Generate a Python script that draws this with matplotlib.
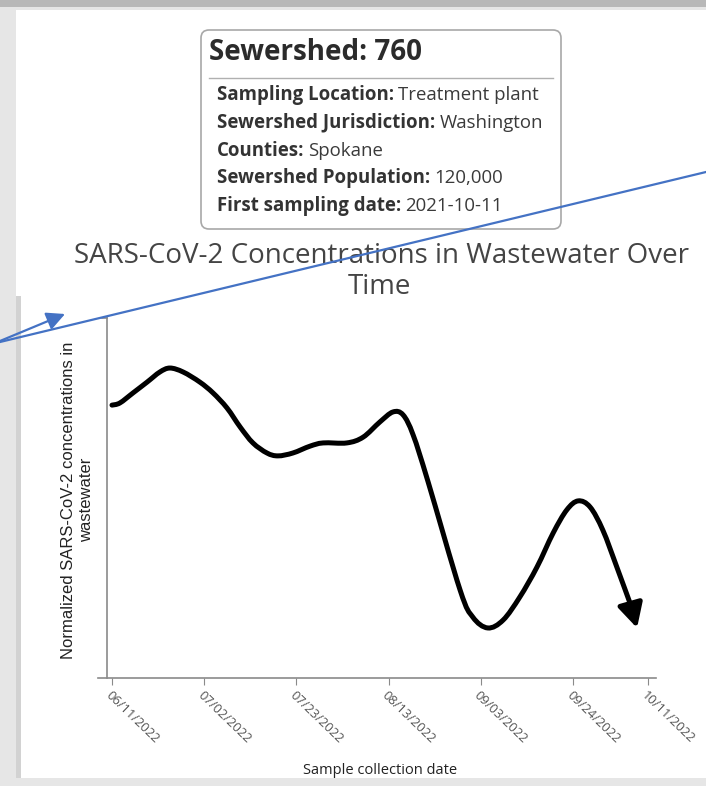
import datetime as dt
import matplotlib
matplotlib.use("Agg")
import matplotlib.pyplot as plt
import matplotlib.dates as mdates
from matplotlib.patches import FancyBboxPatch, Rectangle, FancyArrowPatch, PathPatch
from matplotlib.path import Path
from matplotlib.lines import Line2D
from matplotlib.transforms import IdentityTransform

# ---- data ----
start_date = dt.datetime(2022, 6, 11)
# days after 06/11/2022 and normalized concentration (0-100 scale)
days = [0.0, 1.8, 4.8, 8.0, 10.9, 13.2, 16.2, 20.0, 23.0, 26.2, 29.2, 32.1,
        35.3, 37.8, 41.2, 45.1, 48.1, 53.5, 57.2, 61.0, 64.0, 66.3, 68.6,
        72.0, 79.3, 82.2, 85.6, 89.1, 92.9, 96.8, 100.5, 103.6,
        106.2, 108.9, 111.8, 115.0, 118.0, 119.6]
conc = [75.8, 76.4, 79.2, 82.2, 85.0, 86.1, 85.0, 82.2, 79.2, 75.0, 69.7, 65.3,
        62.5, 61.7, 62.5, 64.4, 65.3, 65.3, 66.9, 71.1, 73.9, 73.1, 67.5,
        54.5, 24.4, 16.9, 13.9, 16.1, 22.5, 30.8, 40.3, 46.7,
        49.2, 47.5, 41.1, 30.8, 20.8, 13.9]
tick_dates = ["06/11/2022", "07/02/2022", "07/23/2022", "08/13/2022",
              "09/03/2022", "09/24/2022", "10/11/2022"]

info_title = "Sewershed: 760"
info_keys = ["Sampling Location:", "Sewershed Jurisdiction:", "Counties:",
             "Sewershed Population:", "First sampling date:"]
info_vals = ["Treatment plant", "Washington", "Spokane", "120,000", "2021-10-11"]

W, H = 706, 786
fig = plt.figure(figsize=(W / 100, H / 100), dpi=100, facecolor="#e6e6e6")
px = IdentityTransform()


def Y(py):
    # screenshot rows run top-down, display pixels bottom-up
    return H - py


def smooth_path(xs, ys):
    # cardinal (catmull-rom) curve through the points, as cubic bezier segments
    pts = list(zip(xs, ys))
    verts = [pts[0]]
    codes = [Path.MOVETO]
    n = len(pts)
    for i in range(n - 1):
        p0 = pts[max(i - 1, 0)]
        p1 = pts[i]
        p2 = pts[i + 1]
        p3 = pts[min(i + 2, n - 1)]
        c1 = (p1[0] + (p2[0] - p0[0]) / 6, p1[1] + (p2[1] - p0[1]) / 6)
        c2 = (p2[0] - (p3[0] - p1[0]) / 6, p2[1] - (p3[1] - p1[1]) / 6)
        verts += [c1, c2, p2]
        codes += [Path.CURVE4] * 3
    return Path(verts, codes)


# screenshot frame (behind everything)
fig.add_artist(Rectangle((0, Y(7)), W, 7, transform=px, color="#b8b8b8", lw=0, zorder=-10))
fig.add_artist(Rectangle((16, Y(778)), W - 16, 768, transform=px, color="white", lw=0, zorder=-10))
fig.add_artist(Rectangle((16, Y(778)), 5, 778 - 296, transform=px, color="#d2d2d2", lw=0, zorder=-9))

# info box
fig.add_artist(FancyBboxPatch((201, Y(229)), 360, 199, transform=px,
                              boxstyle="round,pad=0,rounding_size=8",
                              fc="white", ec="#a8a8a8", lw=1.2, zorder=1))
fig.text(209, Y(53), info_title, transform=px, fontsize=20, fontweight="bold",
         family="Open Sans", color="#2b2b2b", va="center", ha="left")
fig.add_artist(Line2D([209, 553], [Y(78), Y(78)], transform=px, color="#b0b0b0", lw=1, zorder=2))
renderer = fig.canvas.get_renderer()
for i, (k, v) in enumerate(zip(info_keys, info_vals)):
    yy = Y(95 + i * 27.8)
    t = fig.text(217, yy, k, transform=px, fontsize=13.4, fontweight="bold",
                 family="Open Sans", color="#333333", va="center", ha="left")
    bb = t.get_window_extent(renderer)
    fig.text(bb.x1 + 4, yy, v, transform=px, fontsize=13.4, family="Open Sans",
             color="#3a3a3a", va="center", ha="left")

# chart title
fig.text(381, Y(256), "SARS-CoV-2 Concentrations in Wastewater Over", transform=px,
         fontsize=20, family="Open Sans", color="#444444", ha="center", va="center")
fig.text(379, Y(287), "Time", transform=px, fontsize=20, family="Open Sans",
         color="#444444", ha="center", va="center")

# axes: x axis spans px 98..656 at row 678, y axis at px 107 from 318
px_per_day = 4.39
x0 = start_date + dt.timedelta(days=(98 - 112) / px_per_day)
x1 = start_date + dt.timedelta(days=(656 - 112) / px_per_day)
yaxis_at = start_date + dt.timedelta(days=(107 - 112) / px_per_day)
ax = fig.add_axes([98 / W, 1 - 678 / H, (656 - 98) / W, (678 - 318) / H])
ax.set_facecolor("none")
ax.set_xlim(x0, x1)
ax.set_ylim(0, 100)

xnum = [mdates.date2num(start_date + dt.timedelta(days=d)) for d in days]
# smooth line up to the second-last point, then an arrow to the last one
curve = PathPatch(smooth_path(xnum[:-1], conc[:-1]), transform=ax.transData, fill=False,
                  ec="black", lw=3.6, capstyle="round", joinstyle="round")
ax.add_patch(curve)
ax.annotate("", xy=(xnum[-1], conc[-1]), xytext=(xnum[-2], conc[-2]),
            arrowprops=dict(arrowstyle="-|>,head_length=0.8,head_width=0.42",
                            color="black", lw=3.6, mutation_scale=18,
                            shrinkA=0, shrinkB=0))

ax.spines["top"].set_visible(False)
ax.spines["right"].set_visible(False)
ax.spines["left"].set_position(("data", mdates.date2num(yaxis_at)))
for s in ("left", "bottom"):
    ax.spines[s].set_color("#8a8a8a")
    ax.spines[s].set_linewidth(1.2)
ax.set_yticks([])
# small outer tick at the top of the y axis
fig.add_artist(Line2D([102, 107], [Y(318), Y(318)], transform=px, color="#8a8a8a", lw=1.2))

ticks = [dt.datetime.strptime(t, "%m/%d/%Y") for t in tick_dates]
ax.set_xticks(ticks)
ax.set_xticklabels(tick_dates, rotation=-44, ha="left", va="top",
                   rotation_mode="anchor", fontsize=9.3, family="Open Sans",
                   color="#555555")
ax.tick_params(axis="x", length=5, color="#8a8a8a", pad=3)
ax.set_xlabel("Sample collection date", fontsize=10.5, family="Open Sans",
              color="#222222")
ax.xaxis.set_label_coords((380 - 98) / (656 - 98), -(770 - 678) / (678 - 318))
ax.xaxis.label.set_va("center")

fig.text(78, Y(500), "Normalized SARS-CoV-2 concentrations in\nwastewater", transform=px,
         rotation=90, fontsize=12, family="Liberation Sans", color="#222222",
         ha="center", va="center", multialignment="center", linespacing=1.25)

# blue annotation arrows drawn over the screenshot
blue = "#4472c4"
fig.add_artist(Line2D([0, 706], [Y(342), Y(172)], transform=px, color=blue, lw=1.6, zorder=5))
fig.add_artist(FancyArrowPatch((0, Y(341)), (65, Y(314)), transform=px,
                               arrowstyle="-|>,head_length=11,head_width=5.5",
                               color=blue, lw=1.6, shrinkA=0, shrinkB=0, zorder=5))

fig.savefig("out.png", dpi=100, facecolor=fig.get_facecolor())
